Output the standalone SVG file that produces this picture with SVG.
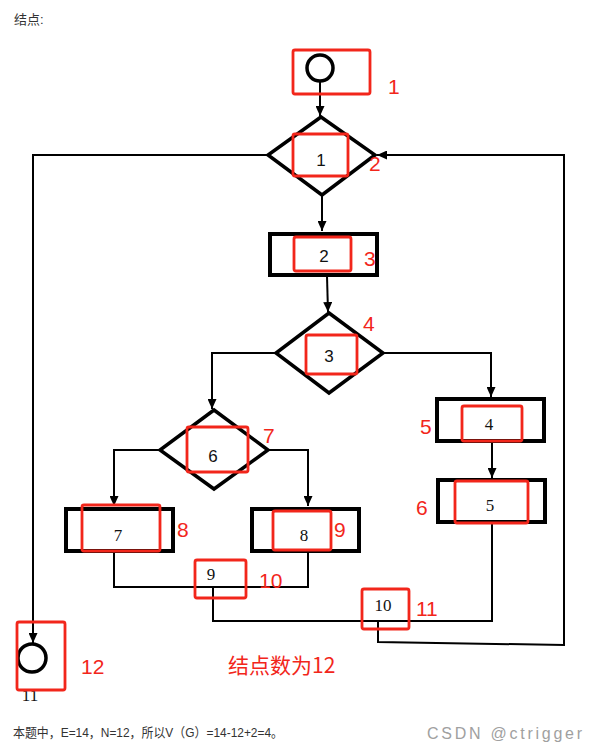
<svg xmlns="http://www.w3.org/2000/svg" width="599" height="750" viewBox="0 0 599 750">
<defs>
<style>
.bg{fill:#ffffff}
.box{fill:#ffffff;stroke:#000;stroke-width:4}
.dia{fill:#ffffff;stroke:#000;stroke-width:3.5;stroke-linejoin:miter}
.circ{fill:#ffffff;stroke:#000;stroke-width:3.5}
.red{fill:none;stroke:#f2261b;stroke-width:2.8}
.edge{fill:none;stroke:#000;stroke-width:2}
.ns{font-family:"Liberation Sans",Arial,sans-serif;font-size:17px;fill:#111;text-anchor:middle}
.nf{font-family:"Liberation Serif","Times New Roman",serif;font-size:17px;fill:#111;text-anchor:middle}
.lab{font-family:"Liberation Sans",Arial,sans-serif;font-size:21px;fill:#f2261b}
.cap{font-family:"Liberation Sans","Noto Sans CJK SC",sans-serif;font-size:13px;fill:#333}
</style>
<marker id="arr" markerUnits="userSpaceOnUse" markerWidth="10" markerHeight="9" refX="10" refY="4.5" orient="auto">
<path d="M0,0 L10,4.5 L0,9 z" fill="#000"/>
</marker>
</defs>
<rect class="bg" x="0" y="0" width="599" height="750"/>
<text class="cap" x="14" y="24">结点:</text>

<g id="connectors">
<path class="edge" d="M320,82 L320,116" marker-end="url(#arr)"/>
<path class="edge" d="M322,195 L322,231" marker-end="url(#arr)"/>
<path class="edge" d="M327,276 L328,312" marker-end="url(#arr)"/>
<path class="edge" d="M276,353 L212,353 L212,409" marker-end="url(#arr)"/>
<path class="edge" d="M383,353 L491,353 L491,397" marker-end="url(#arr)"/>
<path class="edge" d="M492,442 L492,478" marker-end="url(#arr)"/>
<path class="edge" d="M160,450 L114,450 L114,506" marker-end="url(#arr)"/>
<path class="edge" d="M268,450 L308,450 L308,506" marker-end="url(#arr)"/>
<path class="edge" d="M114,552 L114,587 L308,587 L308,552"/>
<path class="edge" d="M213,587 L213,621 L492,621 L492,523"/>
<path class="edge" d="M378,621 L378,642 L564,645 L564,155 L377,155" marker-end="url(#arr)"/>
<path class="edge" d="M268,155 L33,155 L33,643" marker-end="url(#arr)"/>
</g>

<g id="node-start">
<circle class="circ" cx="320" cy="68" r="13"/>
<rect class="red" x="293" y="50" width="77" height="44" rx="2"/>
<text class="lab" x="388" y="94">1</text>
</g>

<g id="node-1">
<polygon class="dia" points="321,117 375,155 322,195 268,155"/>
<rect class="red" x="293" y="134" width="55" height="42" rx="2"/>
<text class="ns" x="321" y="166">1</text>
<text class="lab" x="369" y="171">2</text>
</g>

<g id="node-2">
<rect class="box" x="270" y="234" width="107" height="41"/>
<rect class="red" x="294" y="237" width="57" height="34" rx="2"/>
<text class="ns" x="324" y="262">2</text>
<text class="lab" x="364" y="266">3</text>
</g>

<g id="node-3">
<polygon class="dia" points="329,313 383,353 329,393 276,353"/>
<rect class="red" x="306" y="335" width="51" height="39" rx="2"/>
<text class="ns" x="329" y="362">3</text>
<text class="lab" x="363" y="331">4</text>
</g>

<g id="node-4">
<rect class="box" x="437" y="399" width="107" height="42"/>
<rect class="red" x="462" y="406" width="60" height="35" rx="2"/>
<text class="nf" x="489" y="430">4</text>
<text class="lab" x="420" y="434">5</text>
</g>

<g id="node-5">
<rect class="box" x="438" y="480" width="107" height="42"/>
<rect class="red" x="455" y="481" width="73" height="42" rx="2"/>
<text class="nf" x="490" y="511">5</text>
<text class="lab" x="416" y="515">6</text>
</g>

<g id="node-6">
<polygon class="dia" points="214,410 268,450 214,489 160,450"/>
<rect class="red" x="187" y="427" width="61" height="45" rx="2"/>
<text class="ns" x="213" y="462">6</text>
<text class="lab" x="263" y="443">7</text>
</g>

<g id="node-7">
<rect class="box" x="66" y="509" width="107" height="42"/>
<rect class="red" x="82" y="505" width="78" height="46" rx="2"/>
<text class="nf" x="118" y="541">7</text>
<text class="lab" x="177" y="537">8</text>
</g>

<g id="node-8">
<rect class="box" x="252" y="509" width="107" height="42"/>
<rect class="red" x="273" y="511" width="58" height="39" rx="2"/>
<text class="nf" x="304" y="541">8</text>
<text class="lab" x="334" y="537">9</text>
</g>

<g id="node-9">
<rect class="red" x="195" y="560" width="51" height="38" rx="2"/>
<text class="nf" x="211" y="580">9</text>
<text class="lab" x="259" y="588">10</text>
</g>

<g id="node-10">
<rect class="red" x="362" y="589" width="47" height="40" rx="2"/>
<text class="nf" x="383" y="611">10</text>
<text class="lab" x="416" y="616">11</text>
</g>

<g id="node-end">
<circle class="circ" cx="32" cy="658" r="14"/>
<text class="nf" x="30" y="701">11</text>
<rect class="red" x="17" y="622" width="48" height="68" rx="2"/>
<text class="lab" x="81" y="674">12</text>
</g>

<text class="lab" x="228" y="673" style="font-family:'Noto Sans CJK SC','Liberation Sans',sans-serif;font-size:21px">结点数为12</text>
<text class="cap" x="13" y="737" textLength="270" lengthAdjust="spacingAndGlyphs">本题中，E=14，N=12，所以V（G）=14-12+2=4。</text>
<text class="cap" x="427" y="739" textLength="155" lengthAdjust="spacing" style="fill:#a0a0a0;font-size:16px">CSDN @ctrigger</text>
</svg>
